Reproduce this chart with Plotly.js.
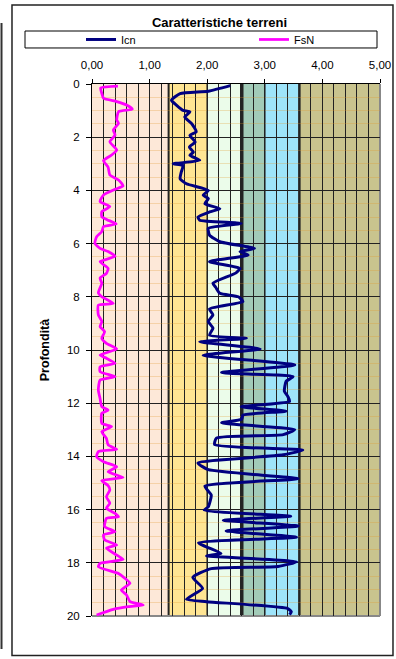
<!DOCTYPE html>
<html>
<head>
<meta charset="utf-8">
<script src="https://cdn.plot.ly/plotly-3.0.1.min.js"></script>
<style>html,body{margin:0;padding:0;background:#fff;}#chart{width:396px;height:659px;}</style>
</head>
<body>
<div id="chart"></div>
<script>
// ---- data ----
const chartTitle = 'Caratteristiche terreni';
const yTitle = 'Profondità';
const icnDepth = [0.06,0.27,0.36,0.61,0.80,0.99,1.05,1.24,1.49,1.80,1.93,2.18,2.37,2.56,2.68,2.87,3.00,3.06,3.31,3.56,3.75,4.00,4.18,4.31,4.50,4.69,4.81,5.00,5.12,5.24,5.42,5.68,5.93,6.18,6.30,6.43,6.68,6.93,7.10,7.49,7.65,7.87,8.00,8.18,8.46,8.68,8.93,9.18,9.44,9.56,9.69,9.96,10.20,10.56,10.85,11.00,11.18,11.55,11.75,11.93,12.13,12.30,12.45,12.60,12.74,12.99,13.18,13.31,13.56,13.76,13.94,14.25,14.50,14.84,15.12,15.45,15.89,16.02,16.25,16.40,16.62,16.80,17.04,17.25,17.65,17.74,17.96,18.14,18.22,18.55,18.96,19.37,19.46,19.72,19.84,19.95];
const icnValue = [2.40,2.02,1.53,1.38,1.47,1.58,1.70,1.61,1.73,1.81,1.70,1.79,1.69,1.76,1.70,1.87,1.41,1.58,1.55,1.53,1.64,2.02,1.93,2.02,1.96,2.22,2.04,1.84,1.87,2.59,2.02,2.04,2.22,2.82,2.57,2.71,2.04,2.57,2.50,2.10,2.15,2.22,2.54,2.62,2.04,2.10,2.02,2.10,2.04,2.68,1.87,2.92,1.93,3.52,2.25,3.49,3.37,3.34,3.40,3.43,2.59,3.37,2.62,2.60,2.25,3.52,3.32,2.16,2.13,3.66,3.32,1.84,2.02,3.58,1.96,2.07,2.02,1.95,3.45,2.28,3.58,2.33,3.55,1.85,2.24,1.99,3.55,3.23,2.07,1.75,1.92,1.64,1.99,3.40,3.46,3.43];
const fsnDepth = [0.08,0.15,0.35,0.54,0.66,0.79,0.95,1.04,1.35,1.48,1.73,1.92,2.17,2.48,2.67,2.88,3.13,3.42,3.61,3.83,3.96,4.17,4.42,4.61,4.80,4.99,5.10,5.26,5.36,5.55,5.74,5.99,6.18,6.30,6.48,6.68,6.93,7.12,7.30,7.49,7.85,8.00,8.25,8.31,8.68,8.93,9.12,9.31,9.56,9.75,9.96,10.19,10.31,10.50,10.63,10.82,11.00,11.13,11.50,11.82,12.13,12.26,12.38,12.76,12.88,13.07,13.32,13.57,13.73,13.82,14.01,14.20,14.39,14.58,14.79,14.91,15.10,15.26,15.52,15.76,15.95,16.14,16.27,16.33,16.64,16.83,16.95,17.14,17.33,17.45,17.71,17.87,18.02,18.15,18.40,18.58,18.77,19.02,19.21,19.46,19.59,19.65,19.75,19.96];
const fsnValue = [0.45,0.15,0.17,0.20,0.43,0.60,0.70,0.46,0.43,0.46,0.37,0.40,0.31,0.43,0.34,0.20,0.28,0.31,0.46,0.54,0.40,0.20,0.14,0.31,0.17,0.17,0.26,0.42,0.20,0.17,0.08,0.05,0.14,0.28,0.40,0.14,0.28,0.25,0.14,0.17,0.11,0.17,0.37,0.11,0.11,0.17,0.14,0.22,0.17,0.25,0.43,0.14,0.25,0.40,0.14,0.14,0.40,0.14,0.11,0.14,0.17,0.28,0.17,0.17,0.34,0.17,0.25,0.28,0.43,0.11,0.08,0.20,0.43,0.28,0.54,0.17,0.28,0.31,0.25,0.31,0.25,0.40,0.46,0.25,0.22,0.40,0.20,0.22,0.43,0.25,0.43,0.54,0.14,0.11,0.46,0.57,0.66,0.51,0.60,0.66,0.89,0.63,0.37,0.08];
// soil-behaviour bands (Ic limits as drawn)
const bandEdges = [0, 1.33, 2.0, 2.6, 3.0, 3.6, 5.0];
const bandColors = ['#FDE8D8', '#FFE593', '#EBFCEA', '#A2CBB8', '#9EE4FA', '#C9C48E'];
const edgeWidths = [2, 1.5, 3.5, 1.5, 2.5];

// ---- figure ----
const FONT = 'Arial, "Liberation Sans", sans-serif';
const traces = [
  {x: icnValue, y: icnDepth, name: 'Icn', type: 'scatter', mode: 'lines',
   line: {color: '#000080', width: 3, shape: 'spline', smoothing: 0.5}, legend: 'legend'},
  {x: fsnValue, y: fsnDepth, name: 'FsN', type: 'scatter', mode: 'lines',
   line: {color: '#FF00FF', width: 2.75, shape: 'spline', smoothing: 0.5}, legend: 'legend2'}
];

const shapes = [];
for (let i = 0; i < bandColors.length; i++) {
  shapes.push({type: 'rect', xref: 'x', yref: 'paper', x0: bandEdges[i], x1: bandEdges[i+1], y0: 0, y1: 1,
    fillcolor: bandColors[i], line: {width: 0}, layer: 'below'});
}
for (let i = 1; i < bandEdges.length - 1; i++) {
  shapes.push({type: 'line', xref: 'x', yref: 'paper', x0: bandEdges[i], x1: bandEdges[i], y0: 0, y1: 1,
    line: {color: '#222', width: edgeWidths[i-1]}, layer: 'between'});
}
// plot frame right/bottom
shapes.push({type: 'line', xref: 'paper', yref: 'paper', x0: 1, x1: 1, y0: 0, y1: 1, line: {color: '#888', width: 2}, layer: 'between'});
shapes.push({type: 'line', xref: 'paper', yref: 'paper', x0: 0, x1: 1, y0: 0, y1: 0, line: {color: '#888', width: 2}, layer: 'between'});
// outer chart frame
shapes.push({type: 'rect', xref: 'paper', yref: 'paper', x0: -0.2778, x1: 1.0451, y0: -0.0742, y1: 1.1485,
  line: {color: '#222', width: 1.5}, fillcolor: 'rgba(0,0,0,0)'});
// legend box
shapes.push({type: 'rect', xref: 'paper', yref: 'paper', x0: -0.2326, x1: 0.9896, y0: 1.0677, y1: 1.0996,
  line: {color: '#000', width: 1}, fillcolor: '#fff'});
// left edge line
shapes.push({type: 'line', xref: 'paper', yref: 'paper', x0: -0.3142, x1: -0.3142, y0: -0.062, y1: 1.1147,
  line: {color: '#333', width: 2}});

const layout = {
  width: 396, height: 659,
  margin: {l: 92, r: 16, t: 84, b: 43},
  paper_bgcolor: '#fff', plot_bgcolor: '#fff',
  font: {family: FONT, size: 11, color: '#000'},
  separators: ',.',
  title: {text: chartTitle, font: {family: FONT, size: 13, weight: 'bold', color: '#000'},
    xref: 'container', yref: 'container', x: 219.5/396, xanchor: 'center', y: 1 - 22.7/659, yanchor: 'middle'},
  xaxis: {side: 'top', range: [0, 5], tick0: 0, dtick: 1, tickformat: '.2f',
    ticks: 'outside', ticklen: 4, tickcolor: '#000', ticklabelstandoff: 5,
    showline: true, linecolor: '#000', linewidth: 1, zeroline: false,
    showgrid: true, gridcolor: '#222', gridwidth: 1,
    minor: {dtick: 0.2, showgrid: true, gridcolor: '#222', gridwidth: 1, ticks: ''},
    tickfont: {family: FONT, size: 11.5, color: '#000'}, fixedrange: true},
  yaxis: {range: [20, 0], tick0: 0, dtick: 2,
    ticks: 'outside', ticklen: 5, tickcolor: '#000', ticklabelstandoff: 4,
    showline: true, linecolor: '#000', linewidth: 1, zeroline: false,
    showgrid: true, gridcolor: '#222', gridwidth: 1,
    minor: {dtick: 0.5, showgrid: true, gridcolor: 'rgba(225,150,40,0.28)', gridwidth: 1, ticks: ''},
    tickfont: {family: FONT, size: 11.5, color: '#000'},
    title: {text: yTitle, font: {family: FONT, size: 12.5, weight: 'bold', color: '#000'}, standoff: 14},
    fixedrange: true},
  legend: {orientation: 'h', x: -0.0382, xanchor: 'left', y: 1.0837, yanchor: 'middle',
    bgcolor: 'rgba(0,0,0,0)', borderwidth: 0, font: {family: FONT, size: 11, color: '#000'}},
  legend2: {orientation: 'h', x: 0.5624, xanchor: 'left', y: 1.0837, yanchor: 'middle',
    bgcolor: 'rgba(0,0,0,0)', borderwidth: 0, font: {family: FONT, size: 11, color: '#000'}},
  shapes: shapes,
  showlegend: true
};

Plotly.newPlot('chart', traces, layout, {staticPlot: true, displayModeBar: false});
</script>
</body>
</html>
